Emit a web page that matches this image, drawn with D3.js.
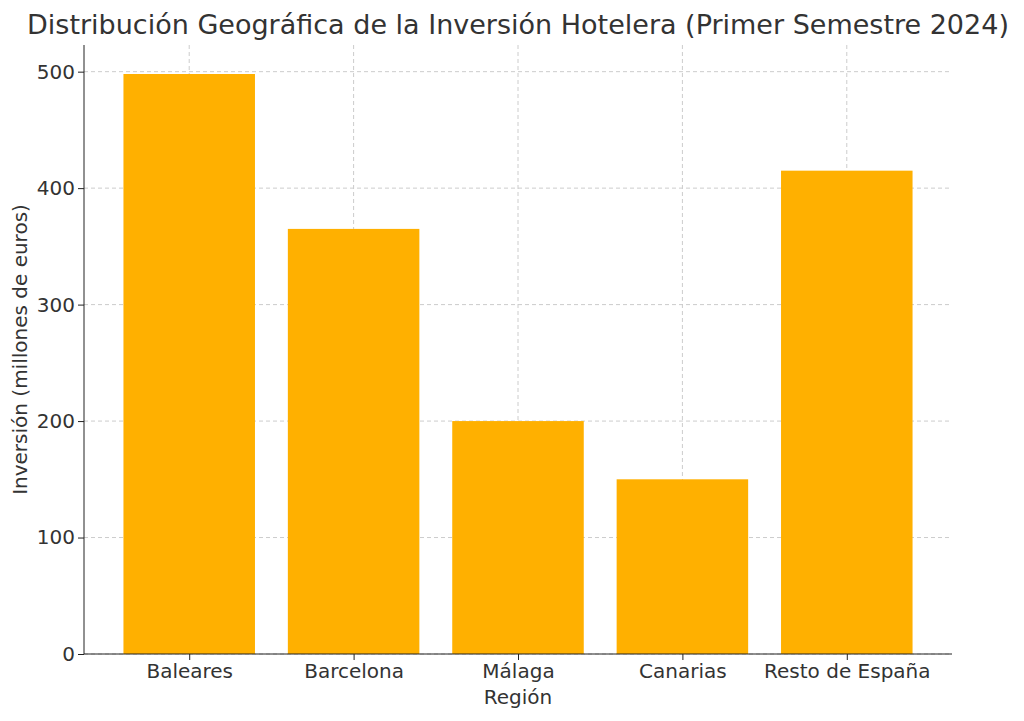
<!DOCTYPE html>
<html><head><meta charset="utf-8">
<script src="https://cdn.jsdelivr.net/npm/d3@7"></script>
<style>body{margin:0;background:#fff}text{font-family:"DejaVu Sans",sans-serif;fill:#333}</style>
</head><body><svg width="1024" height="721"></svg>
<script>
const regions = ["Baleares", "Barcelona", "Málaga", "Canarias", "Resto de España"]
const inversion = [498, 365, 200, 150, 415]
const yTicks = [0, 100, 200, 300, 400, 500]

const margin = { left: 84, right: 72, top: 45, bottom: 67 }
const W = 1024, H = 721
const svg = d3.select('svg')

// matplotlib-style x positions: index with 0.8 wide bars and 5% margins
const n = regions.length
const pad = 0.05 * (n - 1 + 0.8)
const x = d3.scaleLinear().domain([-0.4 - pad, n - 1 + 0.4 + pad]).range([margin.left, W - margin.right])
const y = d3.scaleLinear().domain([0, d3.max(inversion) * 1.05]).range([H - margin.bottom, margin.top])

// grid
const g = svg.append('g')
g.selectAll('.gy').data(yTicks).enter().append('line')
  .attr('x1', margin.left).attr('x2', W - margin.right)
  .attr('y1', d => y(d)).attr('y2', d => y(d))
  .attr('stroke', '#ccc').attr('stroke-dasharray', '4,3')
g.selectAll('.gx').data(regions).enter().append('line')
  .attr('x1', (d, i) => x(i)).attr('x2', (d, i) => x(i))
  .attr('y1', margin.top).attr('y2', H - margin.bottom)
  .attr('stroke', '#ccc').attr('stroke-dasharray', '4,3')

svg.selectAll('rect').data(inversion).enter().append('rect')
  .attr('x', (d, i) => x(i - 0.4))
  .attr('width', x(0.8) - x(0))
  .attr('y', d => y(d))
  .attr('height', d => y(0) - y(d))
  .attr('fill', '#ffb000')

const xAxis = d3.axisBottom(x).tickValues(d3.range(n)).tickFormat(i => regions[i]).tickSizeOuter(0)
svg.append('g').attr('transform', `translate(0,${H - margin.bottom})`).call(xAxis)
  .call(s => s.selectAll('text').attr('font-size', 20).attr('dy', '0.75em'))
  .call(s => s.select('.domain').attr('d', `M${margin.left},0H${W - margin.right}`))

const yAxis = d3.axisLeft(y).tickValues(yTicks).tickSizeOuter(0)
svg.append('g').attr('transform', `translate(${margin.left},0)`).call(yAxis)
  .call(s => s.selectAll('text').attr('font-size', 20))
  .call(s => s.select('.domain').attr('d', `M0,${margin.top}V${H - margin.bottom}`))
svg.selectAll('.domain, .tick line').attr('stroke', '#222')

svg.append('text').attr('x', 518).attr('y', 34).attr('text-anchor', 'middle')
  .attr('font-size', 27).text('Distribución Geográfica de la Inversión Hotelera (Primer Semestre 2024)')
svg.append('text').attr('x', x(2)).attr('y', 704).attr('text-anchor', 'middle')
  .attr('font-size', 20).text('Región')
svg.append('text').attr('transform', `translate(27,${(margin.top + H - margin.bottom) / 2}) rotate(-90)`)
  .attr('text-anchor', 'middle').attr('font-size', 20).text('Inversión (millones de euros)')
</script></body></html>
